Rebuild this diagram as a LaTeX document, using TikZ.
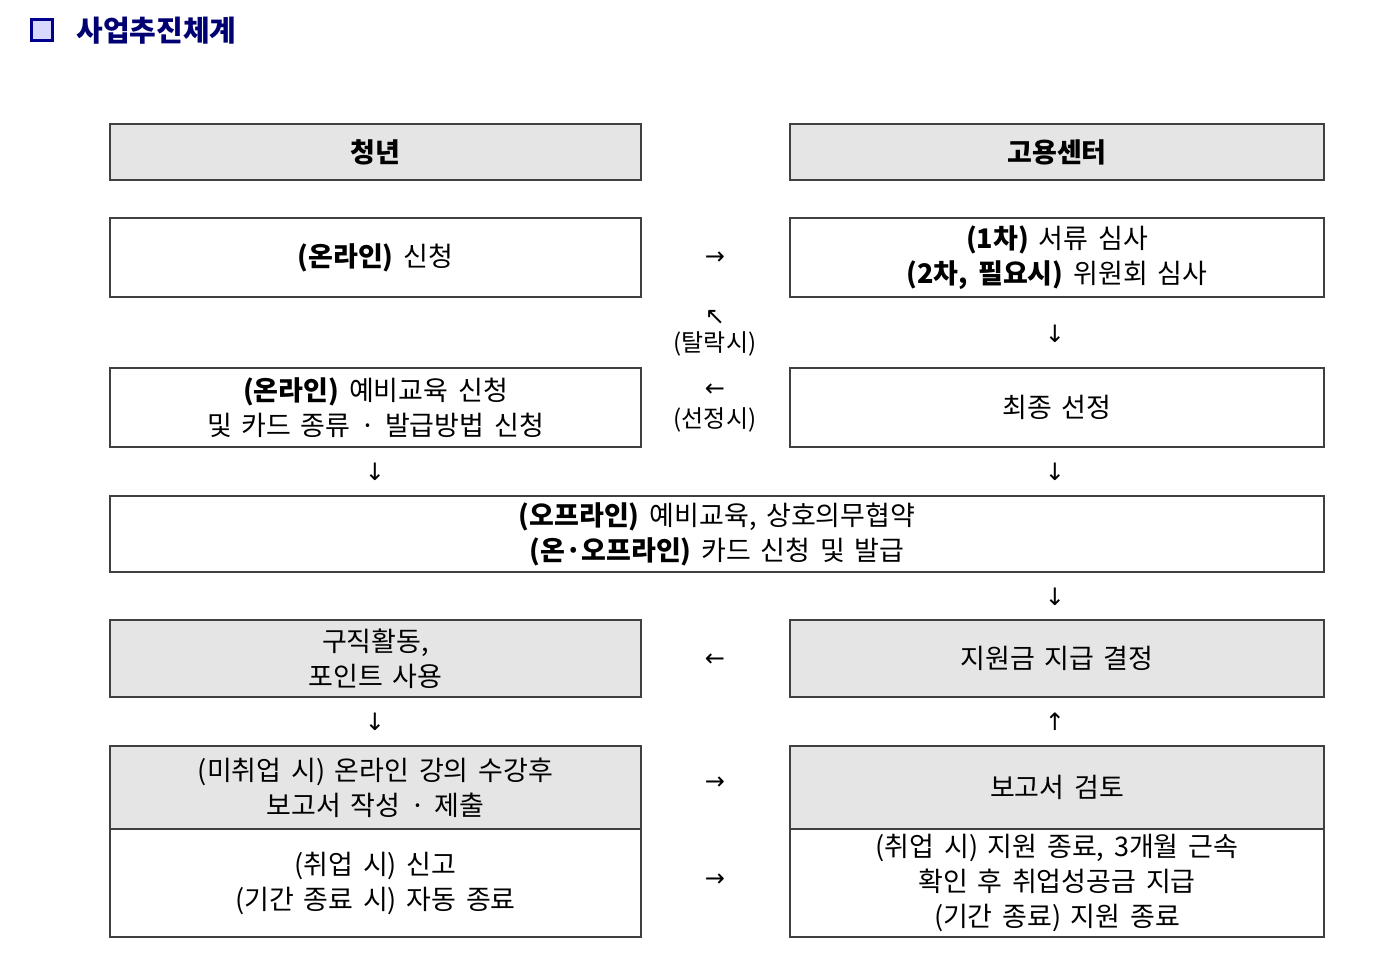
\documentclass[tikz,border=0pt]{standalone}
\usepackage{fontspec}
\setmainfont{Noto Sans CJK KR}[WordSpace={1.6}]
\newfontfamily\arr{DejaVu Sans}
\begin{document}
\begin{tikzpicture}[x=1pt,y=-1pt,
  bx/.style={draw=black!75,line width=1.6pt,minimum height=#1,inner sep=0pt,align=center,font=\fontsize{27}{35}\selectfont},
  hd/.style={fill=black!10},
  ar/.style={font=\arr\fontsize{24}{24}\selectfont,inner sep=0pt},
  lb/.style={font=\fontsize{24}{30}\selectfont,inner sep=0pt}]
\useasboundingbox (0,0) rectangle (1388,977);
\node[draw=blue!55!black,line width=3.5pt,fill=blue!15!white,minimum size=21pt,inner sep=0pt] (ic) at (42,30) {};
\node[anchor=west,font=\bfseries\fontsize{29}{30}\selectfont,text=blue!45!black] (ttl) at (73,31) {사업추진체계};
\node[bx=56pt,hd,minimum width=531pt] (h1) at (375.5,152) {\bfseries 청년};
\node[bx=56pt,hd,minimum width=534pt] (h2) at (1057,152) {\bfseries 고용센터};
\node[bx=79pt,minimum width=531pt] (l1) at (375.5,257.5) {\bfseries(온라인)\ \mdseries 신청};
\node[bx=79pt,minimum width=534pt] (r1) at (1057,257.5) {\bfseries(1차)\ \mdseries 서류 심사\\\bfseries(2차, 필요시)\ \mdseries 위원회 심사};
\node[bx=79pt,minimum width=531pt] (l2) at (375.5,407.5) {\bfseries(온라인)\ \mdseries 예비교육 신청\\및 카드 종류 · 발급방법 신청};
\node[bx=79pt,minimum width=534pt] (r2) at (1057,407.5) {최종 선정};
\node[bx=76pt,minimum width=1214pt] (w) at (717,534) {\bfseries(오프라인)\ \mdseries 예비교육, 상호의무협약\\\bfseries(온·오프라인)\ \mdseries 카드 신청 및 발급};
\node[bx=77pt,hd,minimum width=531pt] (l3) at (375.5,658.5) {구직활동,\\포인트 사용};
\node[bx=77pt,hd,minimum width=534pt] (r3) at (1057,658.5) {지원금 지급 결정};
\node[bx=83pt,hd,minimum width=531pt] (l4) at (375.5,787.5) {(미취업 시) 온라인 강의 수강후\\보고서 작성 · 제출};
\node[bx=83pt,hd,minimum width=534pt] (r4) at (1057,787.5) {보고서 검토};
\node[bx=108pt,minimum width=531pt] (l5) at (375.5,883) {(취업 시) 신고\\(기간 종료 시) 자동 종료};
\node[bx=108pt,minimum width=534pt] (r5) at (1057,883) {(취업 시) 지원 종료, 3개월 근속\\확인 후 취업성공금 지급\\(기간 종료) 지원 종료};
\node[ar] (a1) at (715,258) {→};
\node[ar] (a2) at (715,317) {↖};
\node[lb] (t1) at (715,344) {(탈락시)};
\node[ar] (a3) at (715,390) {←};
\node[lb] (t2) at (715,420) {(선정시)};
\node[ar] (a4) at (1055,334) {↓};
\node[ar] (a5) at (1055,472) {↓};
\node[ar] (a6) at (375,472) {↓};
\node[ar] (a7) at (1055,597) {↓};
\node[ar] (a8) at (715,660) {←};
\node[ar] (a9) at (375,722) {↓};
\node[ar] (a10) at (1055,722) {↑};
\node[ar] (a11) at (715,783) {→};
\node[ar] (a12) at (715,880) {→};
\end{tikzpicture}
\end{document}
